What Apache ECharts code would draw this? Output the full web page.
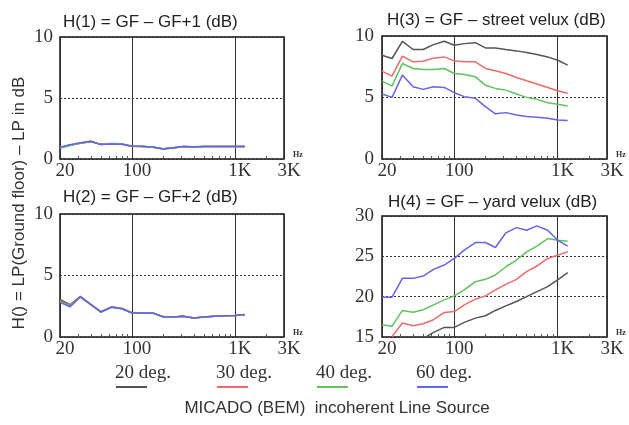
<!DOCTYPE html>
<html><head><meta charset="utf-8">
<script src="https://cdn.jsdelivr.net/npm/echarts@6/dist/echarts.min.js"></script>
<style>html,body{margin:0;padding:0;background:#fff}#c{width:629px;height:425px}</style>
</head><body><div id="c"></div>
<script>
// ---- data ----
const freqs = [20,25,31.5,40,50,63,80,100,125,160,200,250,315,400,500,630,800,1000,1250];
const seriesNames = ['20 deg.','30 deg.','40 deg.','60 deg.'];
const seriesColors = ['#555555','#ee6b6b','#5fc35f','#6464ee'];
const panelTitles = ['H(1) = GF \u2013 GF+1 (dB)','H(2) = GF \u2013 GF+2 (dB)','H(3) = GF \u2013 street velux (dB)','H(4) = GF \u2013 yard velux (dB)'];
const yAxisTitle = 'H() = LP(Ground floor) \u2013 LP in dB';
const footTitle = 'MICADO (BEM)  incoherent Line Source';
const xUnit = 'Hz';
const minorTickFreqs = [30,40,50,60,70,80,90,200,300,400,500,600,700,800,900,2000];

// H(1)
const h1_20 = [0.92,1.12,1.28,1.42,1.20,1.22,1.20,1.05,1.05,0.96,0.84,0.92,1.02,1.00,1.02,1.03,1.03,1.03,1.03];
const h1_30 = [0.95,1.15,1.30,1.45,1.20,1.28,1.25,1.05,1.03,0.98,0.83,0.90,1.03,0.98,1.02,1.03,1.03,1.03,1.03];
const h1_40 = [0.90,1.10,1.32,1.44,1.18,1.24,1.22,1.04,1.04,0.97,0.82,0.91,1.02,0.99,1.02,1.03,1.03,1.03,1.03];
const h1_60 = [0.96,1.17,1.34,1.45,1.18,1.23,1.20,1.04,1.03,0.98,0.82,0.90,1.03,0.98,1.02,1.03,1.03,1.03,1.03];
// H(2)
const h2_20 = [3.05,2.62,3.30,2.65,2.05,2.45,2.32,1.97,1.96,1.95,1.66,1.62,1.68,1.55,1.62,1.68,1.72,1.75,1.82];
const h2_30 = [2.95,2.55,3.28,2.64,2.04,2.43,2.30,1.96,1.95,1.95,1.65,1.62,1.68,1.55,1.62,1.68,1.72,1.75,1.80];
const h2_40 = [2.90,2.50,3.27,2.63,2.03,2.42,2.32,1.95,1.95,1.94,1.65,1.62,1.68,1.55,1.62,1.68,1.72,1.75,1.80];
const h2_60 = [2.82,2.45,3.26,2.62,2.03,2.42,2.30,1.95,1.95,1.94,1.64,1.62,1.68,1.55,1.62,1.68,1.72,1.75,1.80];
// H(3)
const h3_20 = [8.44,8.17,9.57,8.90,8.90,9.30,9.57,9.25,9.38,9.46,9.03,9.03,8.90,8.79,8.65,8.50,8.30,8.03,7.63];
const h3_30 = [7.14,6.74,8.36,7.90,7.95,8.20,8.30,7.98,7.90,7.90,7.36,7.17,6.95,6.63,6.36,6.10,5.82,5.55,5.34];
const h3_40 = [6.33,5.93,7.76,7.36,7.28,7.28,7.36,6.95,6.87,6.68,6.00,5.74,5.60,5.28,5.01,4.85,4.58,4.45,4.31];
const h3_60 = [5.28,5.01,6.82,5.88,5.66,5.88,5.82,5.39,5.07,4.93,4.26,3.67,3.77,3.58,3.45,3.40,3.32,3.18,3.13];
// H(4)
const h4_20 = [null,null,null,null,14.8,15.58,16.19,16.19,16.81,17.34,17.63,18.29,18.86,19.40,20.01,20.63,21.25,22.07,22.97];
const h4_30 = [null,15.05,16.73,16.40,16.64,17.14,18.04,18.16,18.99,19.69,20.10,20.84,21.53,22.15,23.10,23.80,24.74,25.15,25.56];
const h4_40 = [16.52,16.32,18.29,18.08,18.37,18.99,19.60,20.10,20.84,21.86,22.15,22.69,23.71,24.54,25.56,26.26,27.20,27.00,26.88];
const h4_60 = [19.93,19.93,22.27,22.27,22.56,23.38,23.92,24.74,25.77,26.71,26.71,26.10,27.90,28.56,28.23,28.77,28.23,27.00,26.26];

const panelData = [[h1_20,h1_30,h1_40,h1_60],[h2_20,h2_30,h2_40,h2_60],[h3_20,h3_30,h3_40,h3_60],[h4_20,h4_30,h4_40,h4_60]];
const yRanges = [[0,10],[0,10],[0,10],[15,30]];
const yInterval = 5;
const xMin = 20, xMax = 3000;

// ---- layout ----
const grids = [
  {left:60, top:37, width:224, height:122},
  {left:60, top:214, width:224, height:123},
  {left:382, top:36, width:225, height:123},
  {left:382, top:216, width:225, height:121}
];
const titlePos = [{left:63,top:14},{left:63,top:189},{left:387,top:12},{left:388,top:194}];

const serif = 'Liberation Serif';
const sans = 'Liberation Sans';
function frame(){ return {show:true, onZero:false, lineStyle:{color:'#333', width:1.5}}; }

function fmtX(v){ v = Math.round(v); return v >= 1000 ? (v/1000)+'K' : String(v); }

const xAxes = [], yAxes = [];
grids.forEach((g,i)=>{
  // bottom: labels + minor ticks
  xAxes.push({
    type:'log', logBase:10, gridIndex:i, min:xMin, max:xMax, position:'bottom',
    axisLine:frame(),
    axisTick:{show:true, inside:true, length:3, customValues:minorTickFreqs, lineStyle:{color:'#555'}},
    splitLine:{show:false},
    axisLabel:{formatter:fmtX, fontFamily:serif, fontSize:19, color:'#333', margin:3, padding:[0,0,0,10]}
  });
  // top: frame + decade grid lines
  xAxes.push({
    type:'log', logBase:10, gridIndex:i, min:xMin, max:xMax, position:'top',
    axisLine:frame(), axisTick:{show:false}, axisLabel:{show:false},
    splitLine:{show:true, lineStyle:{color:'#333', width:1, type:'solid'}}
  });
  yAxes.push({
    type:'value', gridIndex:i, min:yRanges[i][0], max:yRanges[i][1], interval:yInterval, position:'left',
    axisLine:frame(), axisTick:{show:false},
    splitLine:{show:true, lineStyle:{color:'#333', width:1, type:[2,2]}},
    axisLabel:{fontFamily:serif, fontSize:19, color:'#333', margin:i>=2?8:7}
  });
  yAxes.push({
    type:'value', gridIndex:i, min:yRanges[i][0], max:yRanges[i][1], interval:yInterval, position:'right',
    axisLine:frame(), axisTick:{show:false}, axisLabel:{show:false}, splitLine:{show:false}
  });
});

const series = [];
panelData.forEach((arrs,pi)=>{
  arrs.forEach((arr,si)=>{
    series.push({
      type:'line', name:seriesNames[si], xAxisIndex:2*pi, yAxisIndex:2*pi,
      data: freqs.map((f,k)=>[f, arr[k]]),
      showSymbol:false, symbol:'none', connectNulls:false,
      lineStyle:{color:seriesColors[si], width:1.5}, itemStyle:{color:seriesColors[si]}
    });
  });
});

const legendX = [115,216,316,416];
const graphic = [];
seriesNames.forEach((n,i)=>{
  graphic.push({type:'text', x:legendX[i], y:373, style:{text:n, font:'19px "Liberation Serif"', fill:'#333', textVerticalAlign:'middle'}});
  graphic.push({type:'line', shape:{x1:legendX[i]+1, y1:387, x2:legendX[i]+32, y2:387}, style:{stroke:seriesColors[i], lineWidth:2}});
});
grids.forEach(g=>{
  graphic.push({type:'text', x:g.left+g.width+9, y:g.top+g.height-4, style:{text:xUnit, font:'bold 8px "Liberation Serif"', fill:'#333', textVerticalAlign:'middle'}});
});
graphic.push({type:'text', x:19, y:203, rotation:Math.PI/2, style:{text:yAxisTitle, font:'17px "Liberation Sans"', fill:'#333', textAlign:'center', textVerticalAlign:'middle'}});
graphic.push({type:'text', x:337, y:408, style:{text:footTitle, font:'17px "Liberation Sans"', fill:'#333', textAlign:'center', textVerticalAlign:'middle'}});

const option = {
  animation:false,
  title: panelTitles.map((t,i)=>({text:t, left:titlePos[i].left, top:titlePos[i].top, padding:0,
    textStyle:{fontFamily:sans, fontSize:17, fontWeight:'normal', color:'#222'}})),
  grid: grids.map(g=>Object.assign({show:true, borderColor:'#333', borderWidth:1, backgroundColor:'transparent'}, g)),
  xAxis:xAxes, yAxis:yAxes, series:series, graphic:graphic
};
const chart = echarts.init(document.getElementById('c'));
chart.setOption(option);
</script></body></html>
